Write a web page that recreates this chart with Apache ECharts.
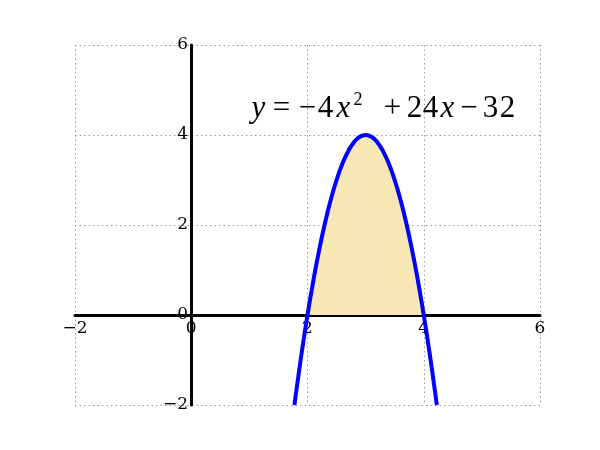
<!DOCTYPE html>
<html>
<head>
<meta charset="utf-8">
<script src="https://cdn.jsdelivr.net/npm/echarts@6/dist/echarts.min.js"></script>
<style>html,body{margin:0;padding:0;background:#fff;}#c{width:600px;height:450px;}</style>
</head>
<body>
<div id="c"></div>
<script>
// Curve points (x, y)
var curveX = [1.775, 1.8, 1.9, 2.0, 2.1, 2.2, 2.3, 2.4, 2.5, 2.6, 2.7, 2.8, 2.9, 3.0, 3.1, 3.2, 3.3, 3.4, 3.5, 3.6, 3.7, 3.8, 3.9, 4.0, 4.1, 4.2, 4.225];
var curveY = [-2.0, -1.76, -0.84, 0, 0.76, 1.44, 2.04, 2.56, 3.0, 3.36, 3.64, 3.84, 3.96, 4.0, 3.96, 3.84, 3.64, 3.36, 3.0, 2.56, 2.04, 1.44, 0.76, 0, -0.84, -1.76, -2.0];
// Shaded region between x = 2 and x = 4
var fillX = [2.0, 2.1, 2.2, 2.3, 2.4, 2.5, 2.6, 2.7, 2.8, 2.9, 3.0, 3.1, 3.2, 3.3, 3.4, 3.5, 3.6, 3.7, 3.8, 3.9, 4.0];
var fillY = [0, 0.76, 1.44, 2.04, 2.56, 3.0, 3.36, 3.64, 3.84, 3.96, 4.0, 3.96, 3.84, 3.64, 3.36, 3.0, 2.56, 2.04, 1.44, 0.76, 0];
var xTicks = [-2, 0, 2, 4, 6];
var yTicks = [-2, 0, 2, 4, 6];
// Equation label pieces: [text, style]
var eqTokens = [['y', 'i'], ['=', 'n'], ['\u2212', 'n'], ['4', 'n'], ['x', 'i'], ['2', 's'], ['+', 'n'], ['2', 'n'], ['4', 'n'], ['x', 'i'], ['\u2212', 'n'], ['3', 'n'], ['2', 'n']];

function pairs(xs, ys) { return xs.map(function (x, i) { return [x, ys[i]]; }); }
function fmt(v) { return v < 0 ? '\u2212' + Math.abs(v) : String(v); }

var GL = 75, GR = 60, GT = 45, GB = 45, W = 600, H = 450;
var pw = W - GL - GR, ph = H - GT - GB;
var xZeroOff = -Math.round(pw * (0 - xTicks[0]) / (xTicks[xTicks.length - 1] - xTicks[0]));
var yZeroOff = -Math.round(ph * (0 - yTicks[0]) / (yTicks[yTicks.length - 1] - yTicks[0]));

// glyph centres for the equation (layout only)
var eqCenters = [258.5, 281.5, 307.5, 325.5, 343.5, 358, 392.5, 414.5, 430.5, 447.5, 469, 490.5, 507.5];
var styles = {
  i: { font: 'italic 31px "Liberation Serif"', y: 109 },
  n: { font: '31px "Liberation Serif"', y: 109 },
  s: { font: '18px "Liberation Serif"', y: 100 }
};
var graphics = eqTokens.map(function (t, k) {
  var st = styles[t[1]];
  return { type: 'text', x: eqCenters[k], y: st.y, z: 10,
    style: { text: t[0], font: st.font, fill: '#000', align: 'center', verticalAlign: 'middle' } };
});

var chart = echarts.init(document.getElementById('c'), null, { renderer: 'canvas' });
var labelFont = { fontFamily: 'DejaVu Serif', fontSize: 17, color: '#000' };
var split = { show: true, lineStyle: { color: '#999', type: [1.5, 3], width: 1 } };
chart.setOption({
  animation: false,
  grid: { left: GL, right: GR, top: GT, bottom: GB },
  xAxis: {
    type: 'value', min: xTicks[0], max: xTicks[xTicks.length - 1], interval: 2,
    offset: yZeroOff,
    axisLine: { onZero: false, lineStyle: { color: '#000', width: 3 } },
    axisTick: { show: false },
    axisLabel: Object.assign({ formatter: fmt, margin: 5, showMinLabel: true, showMaxLabel: true }, labelFont),
    splitLine: split
  },
  yAxis: {
    type: 'value', min: yTicks[0], max: yTicks[yTicks.length - 1], interval: 2,
    offset: xZeroOff,
    axisLine: { onZero: false, lineStyle: { color: '#000', width: 3 } },
    axisTick: { show: false },
    axisLabel: Object.assign({ formatter: fmt, margin: 3, showMinLabel: true, showMaxLabel: true }, labelFont),
    splitLine: split
  },
  series: [
    {
      type: 'line', data: pairs(fillX, fillY), showSymbol: false, smooth: true,
      lineStyle: { width: 0 }, areaStyle: { color: '#f7e7b4', opacity: 1 }, z: 2
    },
    {
      type: 'line', data: pairs(curveX, curveY), showSymbol: false, smooth: true,
      lineStyle: { color: '#0000ff', width: 4 }, z: 3
    }
  ],
  graphic: graphics
});
</script>
</body>
</html>
